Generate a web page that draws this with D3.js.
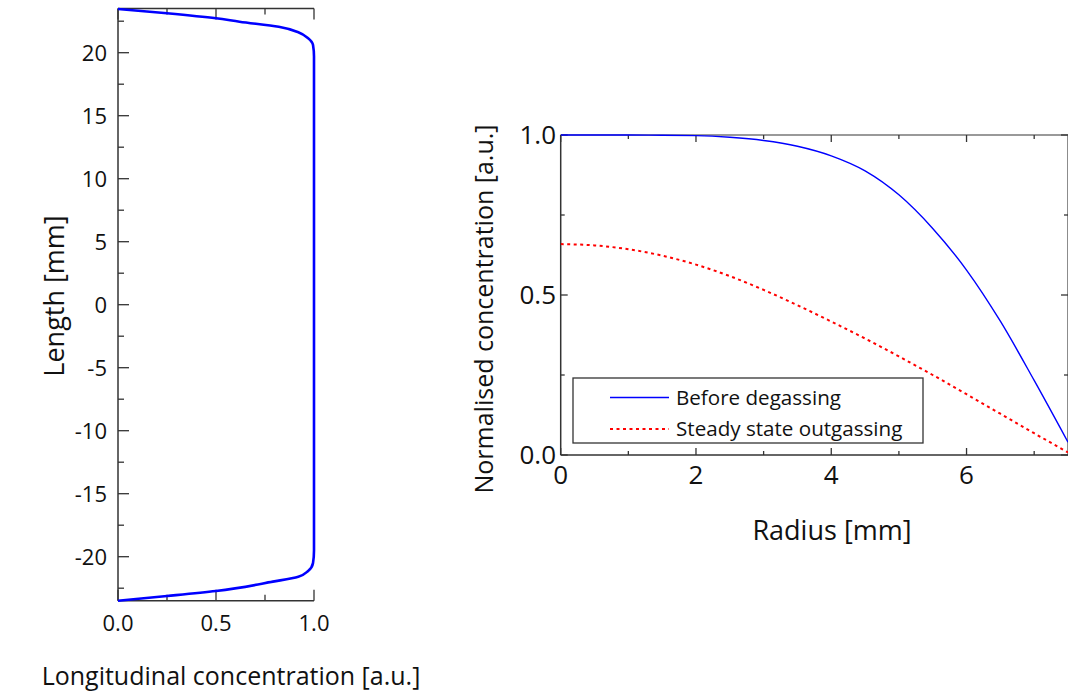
<!DOCTYPE html>
<html>
<head>
<meta charset="utf-8">
<script src="https://cdn.jsdelivr.net/npm/d3@7"></script>
<style>
  html, body { margin: 0; padding: 0; background: #fff; }
  svg { display: block; font-family: "Open Sans", sans-serif; }
</style>
</head>
<body>
<svg id="chart" width="1068" height="692"></svg>
<script>
// ---------- data ----------
// Left panel: longitudinal concentration profile along the length
const lengthMm  = [23.47, 23.13, 22.73, 22.46, 22.06, 21.62, 21.14, 20.61, 19.70, 0, -19.50, -20.50, -21.13, -21.59, -21.98, -22.72, -23.12, -23.49];
const longConc  = [0.00, 0.25, 0.50, 0.62, 0.82, 0.92, 0.97, 0.995, 1.00, 1.00, 1.00, 0.995, 0.97, 0.92, 0.79, 0.50, 0.25, 0.00];
const leftYTicks = [20, 15, 10, 5, 0, -5, -10, -15, -20];
const leftYMinor = [22.5, 17.5, 12.5, 7.5, 2.5, -2.5, -7.5, -12.5, -17.5, -22.5];
const leftXTicks = ["0.0", "0.5", "1.0"];
const leftXMinor = [0.25, 0.75];

// Right panel: radial concentration profiles
const radius          = [0, 0.5, 1.0, 1.5, 2.0, 2.5, 3.0, 3.5, 4.0, 4.5, 5.0, 5.5, 6.0, 6.5, 7.0, 7.5];
const beforeDegassing = [1.000, 1.000, 1.000, 0.999, 0.998, 0.993, 0.983, 0.965, 0.935, 0.888, 0.813, 0.708, 0.578, 0.418, 0.233, 0.040];
const steadyState     = [0.659, 0.655, 0.643, 0.623, 0.595, 0.559, 0.516, 0.468, 0.417, 0.364, 0.308, 0.250, 0.190, 0.129, 0.068, 0.008];
const rightXTicks = [0, 2, 4, 6];
const rightXMinor = [1, 3, 5, 7];
const rightYTicks = ["0.0", "0.5", "1.0"];
const rightYMinor = [0.25, 0.75];
const seriesNames = ["Before degassing", "Steady state outgassing"];

const svg = d3.select("#chart");
const axisColor = "#333";

function frameAxes(g, xs, ys, box, xMaj, xMin, yMaj, yMin, majLen, minLen, sides) {
  if (sides.left) g.append("line").attr("x1", box.left).attr("x2", box.left).attr("y1", box.top).attr("y2", box.bottom).attr("stroke", axisColor).attr("stroke-width", 1.5);
  if (sides.right) g.append("line").attr("x1", box.right).attr("x2", box.right).attr("y1", box.top).attr("y2", box.bottom).attr("stroke", "#666").attr("stroke-width", 1.5);
  g.append("line").attr("x1", box.left).attr("x2", box.right).attr("y1", box.top).attr("y2", box.top).attr("stroke", sides.topColor || axisColor).attr("stroke-width", 1.5);
  g.append("line").attr("x1", box.left).attr("x2", box.right).attr("y1", box.bottom).attr("y2", box.bottom).attr("stroke", axisColor).attr("stroke-width", 1.5);
  const tick = (x1, y1, x2, y2) => g.append("line").attr("x1", x1).attr("y1", y1).attr("x2", x2).attr("y2", y2).attr("stroke", axisColor).attr("stroke-width", 1.3);
  xMaj.forEach(v => { tick(xs(v), box.bottom, xs(v), box.bottom - majLen); tick(xs(v), box.top, xs(v), box.top + majLen); });
  xMin.forEach(v => { tick(xs(v), box.bottom, xs(v), box.bottom - minLen); tick(xs(v), box.top, xs(v), box.top + minLen); });
  yMaj.forEach(v => { tick(box.left, ys(v), box.left + majLen, ys(v)); if (sides.right) tick(box.right, ys(v), box.right - majLen, ys(v)); });
  yMin.forEach(v => { tick(box.left, ys(v), box.left + minLen, ys(v)); if (sides.right) tick(box.right, ys(v), box.right - minLen, ys(v)); });
}

// ---------- left panel ----------
const L = { left: 118, right: 314, top: 8.6, bottom: 600.8 };
const lx = d3.scaleLinear().domain([0, 1]).range([L.left, L.right]);
const ly = d3.scaleLinear().domain([-23.5, 23.5]).range([L.bottom, L.top]);
const gl = svg.append("g");

frameAxes(gl, lx, ly, L, leftXTicks.map(Number), leftXMinor, leftYTicks, leftYMinor, 11, 6, { left: true, right: false });

gl.selectAll("text.yt").data(leftYTicks).join("text")
  .attr("x", 107).attr("y", d => ly(d)).attr("dy", "0.36em")
  .attr("text-anchor", "end").attr("font-size", 22).attr("fill", "#111")
  .text(d => String(d));
gl.selectAll("text.xt").data(leftXTicks).join("text")
  .attr("x", d => lx(+d)).attr("y", 631)
  .attr("text-anchor", "middle").attr("font-size", 22).attr("fill", "#111")
  .text(d => d);
gl.append("text").attr("x", 231).attr("y", 685).attr("text-anchor", "middle")
  .attr("font-size", 25).attr("fill", "#111").text("Longitudinal concentration [a.u.]");
gl.append("text").attr("transform", "translate(64,296) rotate(-90)").attr("text-anchor", "middle")
  .attr("font-size", 27).attr("fill", "#111").text("Length [mm]");

const leftPts = lengthMm.map((y, i) => [longConc[i], y]);
gl.append("path").datum(leftPts)
  .attr("fill", "none").attr("stroke", "#0000ff").attr("stroke-width", 2.6)
  .attr("d", d3.line().x(d => lx(d[0])).y(d => ly(d[1])).curve(d3.curveMonotoneY));

// ---------- right panel ----------
const R = { left: 560.7, right: 1068, top: 135, bottom: 455 };
const rx = d3.scaleLinear().domain([0, 7.5]).range([R.left, R.right]);
const ry = d3.scaleLinear().domain([0, 1]).range([R.bottom, R.top]);
const gr = svg.append("g");

frameAxes(gr, rx, ry, R, rightXTicks, rightXMinor, rightYTicks.map(Number), rightYMinor, 7, 4, { left: true, right: true, topColor: "#777" });

gr.selectAll("text.yt").data(rightYTicks).join("text")
  .attr("x", 556).attr("y", d => ry(+d)).attr("dy", "0.36em")
  .attr("text-anchor", "end").attr("font-size", 26).attr("fill", "#111")
  .text(d => d);
gr.selectAll("text.xt").data(rightXTicks).join("text")
  .attr("x", d => rx(d)).attr("y", 484)
  .attr("text-anchor", "middle").attr("font-size", 26).attr("fill", "#111")
  .text(d => d);
gr.append("text").attr("x", 832).attr("y", 540).attr("text-anchor", "middle")
  .attr("font-size", 27).attr("fill", "#111").text("Radius [mm]");
gr.append("text").attr("transform", "translate(493,309) rotate(-90)").attr("text-anchor", "middle")
  .attr("font-size", 25).attr("fill", "#111").text("Normalised concentration [a.u.]");

svg.append("clipPath").attr("id", "rclip").append("rect")
  .attr("x", R.left).attr("y", R.top - 3).attr("width", R.right - R.left).attr("height", R.bottom - R.top + 6);
const rline = d3.line().x(d => rx(d[0])).y(d => ry(d[1])).curve(d3.curveMonotoneX);
gr.append("path").datum(radius.map((r, i) => [r, beforeDegassing[i]]))
  .attr("clip-path", "url(#rclip)")
  .attr("fill", "none").attr("stroke", "#0000ff").attr("stroke-width", 1.4).attr("d", rline);
gr.append("path").datum(radius.map((r, i) => [r, steadyState[i]]))
  .attr("clip-path", "url(#rclip)")
  .attr("fill", "none").attr("stroke", "#ff0000").attr("stroke-width", 2).attr("stroke-dasharray", "3,3.5").attr("d", rline);

// legend
const lg = gr.append("g");
lg.append("rect").attr("x", 573).attr("y", 378).attr("width", 350).attr("height", 65)
  .attr("fill", "#fff").attr("stroke", "#333").attr("stroke-width", 1.3);
const legendStyles = [
  { color: "#0000ff", dash: null, w: 1.4 },
  { color: "#ff0000", dash: "3,3.5", w: 2 }
];
seriesNames.forEach((name, i) => {
  const y = 397.5 + i * 31.5;
  lg.append("line").attr("x1", 610).attr("x2", 669).attr("y1", y).attr("y2", y)
    .attr("stroke", legendStyles[i].color).attr("stroke-width", legendStyles[i].w)
    .attr("stroke-dasharray", legendStyles[i].dash);
  lg.append("text").attr("x", 676).attr("y", y).attr("dy", "0.36em")
    .attr("font-size", 20.6).attr("fill", "#111").text(name);
});
</script>
</body>
</html>
